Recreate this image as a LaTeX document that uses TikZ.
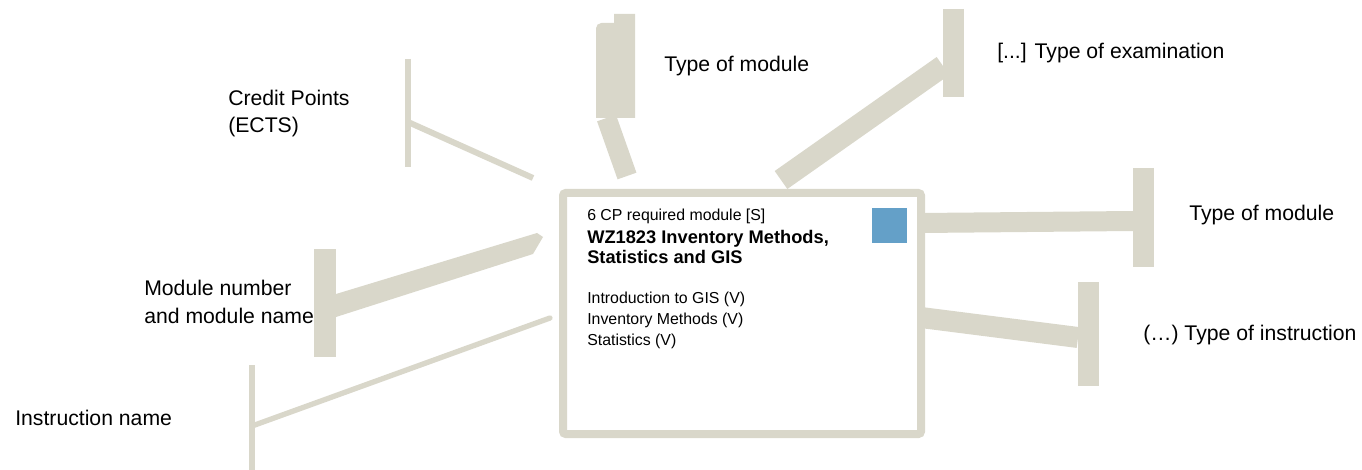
\documentclass[tikz,border=0pt]{standalone}
\usepackage{fontspec}
\setmainfont{Liberation Sans}
\definecolor{callout}{RGB}{217,215,202}
\definecolor{tagblue}{RGB}{100,160,200}
\tikzset{
  lbl/.style={anchor=base west, inner sep=0pt, align=left, font=\fontsize{15.9}{20.5}\selectfont},
  boxtxt/.style={anchor=base west, inner sep=0pt, align=left, font=\fontsize{11.9}{15.4}\selectfont},
  boxtitle/.style={anchor=base west, inner sep=0pt, align=left, font=\fontsize{13.7}{15}\selectfont\bfseries},
  callbar/.style={draw=callout, line width=#1},
}

\begin{document}
\begin{tikzpicture}[x=0.75pt, y=-0.75pt]
			%%%%% START %%%%%
			\useasboundingbox (0,0) rectangle (1362,470);
			
			% T ends of the callouts
			\coordinate (ectsTop) at (408,59);
			\coordinate (ectsBot) at (408,167);
			\coordinate (ectsJoin) at (408,122);
			\coordinate (ectsEnd) at (533,178);
			
			\coordinate (typeJoin) at (606.5,118);
			\coordinate (typeEnd) at (627,176);
			
			\coordinate (examTop) at (953.5,9);
			\coordinate (examBot) at (953.5,97);
			\coordinate (examJoin) at (943,66);
			\coordinate (examEnd) at (781,180);
			
			\coordinate (rtypeTop) at (1143,168);
			\coordinate (rtypeBot) at (1143,267);
			\coordinate (rtypeJoin) at (1133,221);
			\coordinate (rtypeEnd) at (921,223);
			
			\coordinate (instTop) at (1088.5,282);
			\coordinate (instBot) at (1088.5,386);
			\coordinate (instJoin) at (1078,337.5);
			\coordinate (instEnd) at (921,317.5);
			
			\coordinate (nameTop) at (325,249);
			\coordinate (nameBot) at (325,357);
			
			\coordinate (iname Top) at (252,365);
			\coordinate (iname Bot) at (252,470);
			\coordinate (iname Join) at (252,426);
			\coordinate (iname End) at (550,318);
			
			\draw[callbar=4.5pt] (ectsTop) -- (ectsBot);
			\draw[callbar=4.5pt] (ectsEnd) -- (ectsJoin);
			
			\fill[callout] (614,14) -- (635,14) -- (635,118) -- (596,118) [rounded corners=4pt] -- (596,23) [sharp corners] -- (614,23) -- cycle;
			\draw[callbar=15pt] (typeEnd) -- (typeJoin);
			
			\draw[callbar=15.75pt] (examTop) -- (examBot);
			\draw[callbar=16.5pt] (examEnd) -- (examJoin);
			
			\draw[callbar=15.75pt] (rtypeTop) -- (rtypeBot);
			\draw[callbar=15pt] (rtypeEnd) -- (rtypeJoin);
			
			\draw[callbar=15.75pt] (instTop) -- (instBot);
			\draw[callbar=15.75pt] (instEnd) -- (instJoin);
			
			\draw[callbar=16.5pt] (nameTop) -- (nameBot);
			\fill[callout] (336,294) -- (537,233) -- (543,237) -- (533,254) -- (336,317) -- cycle;
			
			\draw[callbar=4.5pt] (iname Top) -- (iname Bot);
			\draw[callbar=4pt, line cap=round] (iname End) -- (iname Join);
			
			% the module box
			\node[draw=callout, fill=white, line width=6pt, rounded corners=2pt, inner sep=0pt,
			      minimum width=358*0.75pt, minimum height=241*0.75pt] (module) at (742,313.5) {};
			\node[fill=tagblue, inner sep=0pt, minimum size=35*0.75pt] (tag) at (889.5,225.5) {};
			
			% base of a node with several lines = its last line
			\node[boxtxt] (cp) at (587,221) {6 CP required module [S]};
			\node[boxtitle] (title) at (587,263) {WZ1823 Inventory Methods,\\Statistics and GIS};
			\node[boxtxt] (courses) at (587,345) {Introduction to GIS (V)\\Inventory Methods (V)\\Statistics (V)};
			
			% labels
			\node[lbl] (ects) at (228,133) {Credit Points\\(ECTS)};
			\node[lbl] (typetop) at (664,72) {Type of module};
			\node[lbl] (exam) at (997,59) {[...] Type of examination};
			\node[lbl] (typeright) at (1189,221) {Type of module};
			\node[lbl] (insttype) at (1143,340) {(…) Type of instruction};
			\node[lbl] (modname) at (144,323) {Module number\\and module name};
			\node[lbl] (instname) at (15,425) {Instruction name};
			
			%%%%% END %%%%%
\end{tikzpicture}
\end{document}
